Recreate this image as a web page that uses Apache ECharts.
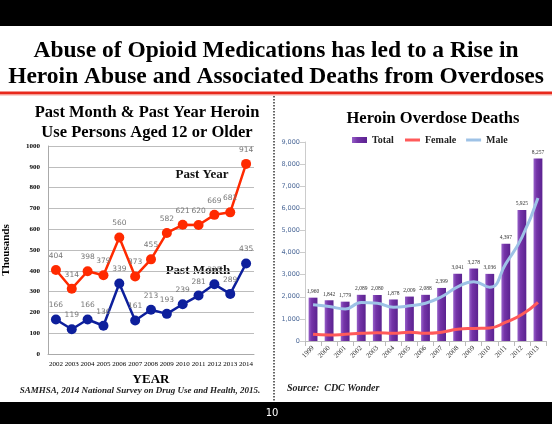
<!DOCTYPE html>
<html><head><meta charset="utf-8">
<script src="https://cdn.jsdelivr.net/npm/echarts@6/dist/echarts.min.js"></script>
<style>html,body{margin:0;padding:0;background:#fff}#c{width:552px;height:424px}</style>
</head><body><div id="c"></div>
<script>
const surveyYears = ['2002','2003','2004','2005','2006','2007','2008','2009','2010','2011','2012','2013','2014'];
const pastYear = [404,314,398,379,560,373,455,582,621,620,669,681,914];
const pastMonth = [166,119,166,136,339,161,213,193,239,281,335,289,435];
const deathYears = ['1999','2000','2001','2002','2003','2004','2005','2006','2007','2008','2009','2010','2011','2012','2013'];
const totalDeaths = [1960,1842,1779,2089,2080,1878,2009,2088,2399,3041,3278,3036,4397,5925,8257];
const femaleDeaths = [300,270,300,350,370,350,400,350,400,530,570,590,850,1200,1750];
const maleDeaths = [1640,1560,1450,1740,1710,1530,1590,1710,2000,2450,2680,2430,3500,4690,6470];

const serif = '"Liberation Serif","DejaVu Serif",serif';
const legendText = {fontFamily: serif, fontWeight: 'bold', fontSize: 10, color: '#222'};
const chart = echarts.init(document.getElementById('c'));
chart.setOption({
  animation: false,
  backgroundColor: '#fff',
  title: [
    {text: 'Past Month & Past Year Heroin\nUse Persons Aged 12 or Older', left: 142, top: 98, textAlign: 'center',
     textStyle: {fontFamily: serif, fontWeight: 'bold', fontSize: 16.5, lineHeight: 20, color: '#000'}},
    {text: 'Heroin Overdose Deaths', left: 428, top: 105, textAlign: 'center',
     textStyle: {fontFamily: serif, fontWeight: 'bold', fontSize: 16.5, color: '#000'}}
  ],
  legend: [
    {data: [{name: 'Total', icon: 'rect'}], left: 347, top: 130, itemWidth: 15, itemHeight: 6,
     textStyle: legendText},
    {data: [{name: 'Female', icon: 'rect'}, {name: 'Male', icon: 'rect'}], left: 400, top: 130,
     itemWidth: 15, itemHeight: 3, itemGap: 10, textStyle: legendText}
  ],
  grid: [
    {left: 48, right: 298, top: 146, bottom: 70},
    {left: 305, right: 6, top: 142, bottom: 83}
  ],
  xAxis: [
    {type: 'category', gridIndex: 0, data: surveyYears, boundaryGap: true,
     axisLine: {lineStyle: {color: '#aaa'}}, axisTick: {show: false},
     axisLabel: {fontFamily: serif, fontSize: 7, color: '#000', margin: 7, interval: 0},
     name: 'YEAR', nameLocation: 'middle', nameGap: 19,
     nameTextStyle: {fontFamily: serif, fontWeight: 'bold', fontSize: 13, color: '#000'}},
    {type: 'category', gridIndex: 1, data: deathYears, boundaryGap: true,
     axisLine: {lineStyle: {color: '#bbb'}}, axisTick: {show: true, lineStyle: {color: '#bbb'}},
     axisLabel: {fontFamily: serif, fontSize: 7, color: '#333', rotate: 45, margin: 6, interval: 0}}
  ],
  yAxis: [
    {type: 'value', gridIndex: 0, min: 0, max: 1000, interval: 100,
     axisLine: {show: true, lineStyle: {color: '#aaa'}}, axisTick: {show: false},
     splitLine: {lineStyle: {color: '#bdbdbd'}},
     axisLabel: {fontFamily: serif, fontWeight: 'bold', fontSize: 7, color: '#000', margin: 8,
       formatter: v => String(v)},
     name: 'Thousands', nameLocation: 'middle', nameGap: 36, nameRotate: 90,
     nameTextStyle: {fontFamily: serif, fontWeight: 'bold', fontSize: 11, color: '#000'}},
    {type: 'value', gridIndex: 1, min: 0, max: 9000, interval: 1000,
     axisLine: {show: true, lineStyle: {color: '#ccc'}}, axisTick: {show: true, lineStyle: {color: '#ccc'}},
     splitLine: {show: false},
     axisLabel: {fontFamily: '"DejaVu Sans",sans-serif', fontSize: 6.5, color: '#4e6a99', margin: 5,
       formatter: v => v.toLocaleString('en-US')}}
  ],
  series: [
    {name: 'Past Year', type: 'line', xAxisIndex: 0, yAxisIndex: 0, data: pastYear,
     symbol: 'circle', symbolSize: 10, lineStyle: {color: '#ff2a00', width: 2.5}, itemStyle: {color: '#ff2a00'},
     label: {show: true, position: 'top', distance: 5, fontSize: 7.5, color: '#777', fontFamily: '"DejaVu Sans",sans-serif'}},
    {name: 'Past Month', type: 'line', xAxisIndex: 0, yAxisIndex: 0, data: pastMonth,
     symbol: 'circle', symbolSize: 10, lineStyle: {color: '#0d1f9c', width: 2.5}, itemStyle: {color: '#0d1f9c'},
     label: {show: true, position: 'top', distance: 5, fontSize: 7.5, color: '#777', fontFamily: '"DejaVu Sans",sans-serif'}},
    {name: 'Total', type: 'bar', xAxisIndex: 1, yAxisIndex: 1, data: totalDeaths, barWidth: '55%',
     itemStyle: {color: new echarts.graphic.LinearGradient(0,0,1,0,[
       {offset:0,color:'#9660c8'},{offset:0.35,color:'#7434a8'},{offset:1,color:'#5b2290'}])},
     label: {show: true, position: 'top', distance: 3, fontSize: 5.5, color: '#333', fontFamily: serif,
       formatter: p => p.value.toLocaleString('en-US')}},
    {name: 'Female', type: 'line', xAxisIndex: 1, yAxisIndex: 1, data: femaleDeaths, smooth: true,
     symbol: 'none', lineStyle: {color: '#ff5a5a', width: 3}, itemStyle: {color: '#ff5a5a'}},
    {name: 'Male', type: 'line', xAxisIndex: 1, yAxisIndex: 1, data: maleDeaths, smooth: true,
     symbol: 'none', lineStyle: {color: '#9ec2e6', width: 3}, itemStyle: {color: '#9ec2e6'}}
  ],
  graphic: [
    {type: 'rect', shape: {x: 0, y: 0, width: 552, height: 26}, style: {fill: '#000'}},
    {type: 'rect', shape: {x: 0, y: 402, width: 552, height: 22}, style: {fill: '#000'}},
    {type: 'text', x: 272, y: 413, style: {text: '10', fill: '#fff', fontSize: 10, fontFamily: '"DejaVu Sans",sans-serif', align: 'center', verticalAlign: 'middle'}},
    {type: 'text', x: 276, y: 51, style: {text: 'Abuse of Opioid Medications has led to a Rise in', fill: '#000', fontSize: 23.5, fontWeight: 'bold', fontFamily: serif, align: 'center', verticalAlign: 'middle'}},
    {type: 'text', x: 276, y: 77, style: {text: 'Heroin Abuse and Associated Deaths from Overdoses', fill: '#000', fontSize: 23.5, fontWeight: 'bold', fontFamily: serif, align: 'center', verticalAlign: 'middle'}},
    {type: 'rect', shape: {x: 0, y: 91.5, width: 552, height: 3}, style: {fill: '#e8281c'}},
    {type: 'rect', shape: {x: 0, y: 94.5, width: 552, height: 1}, style: {fill: '#f4a8a0'}},
    {type: 'line', shape: {x1: 274, y1: 96, x2: 274, y2: 401}, style: {stroke: '#333', lineWidth: 1.5, lineDash: [1.5, 1.5]}},
    {type: 'text', x: 202, y: 175, style: {text: 'Past Year', fill: '#111', fontSize: 13, fontWeight: 'bold', fontFamily: serif, align: 'center', verticalAlign: 'middle'}},
    {type: 'text', x: 198, y: 271, style: {text: 'Past Month', fill: '#111', fontSize: 13, fontWeight: 'bold', fontFamily: serif, align: 'center', verticalAlign: 'middle'}},
    {type: 'text', x: 140, y: 391, style: {text: 'SAMHSA, 2014 National Survey on Drug Use and Health, 2015.', fill: '#222', fontSize: 9, fontWeight: 'bold', fontStyle: 'italic', fontFamily: serif, align: 'center', verticalAlign: 'middle'}},
    {type: 'text', x: 287, y: 388, style: {text: 'Source:  CDC Wonder', fill: '#222', fontSize: 10, fontWeight: 'bold', fontStyle: 'italic', fontFamily: serif, align: 'left', verticalAlign: 'middle'}}
  ]
});
</script></body></html>
